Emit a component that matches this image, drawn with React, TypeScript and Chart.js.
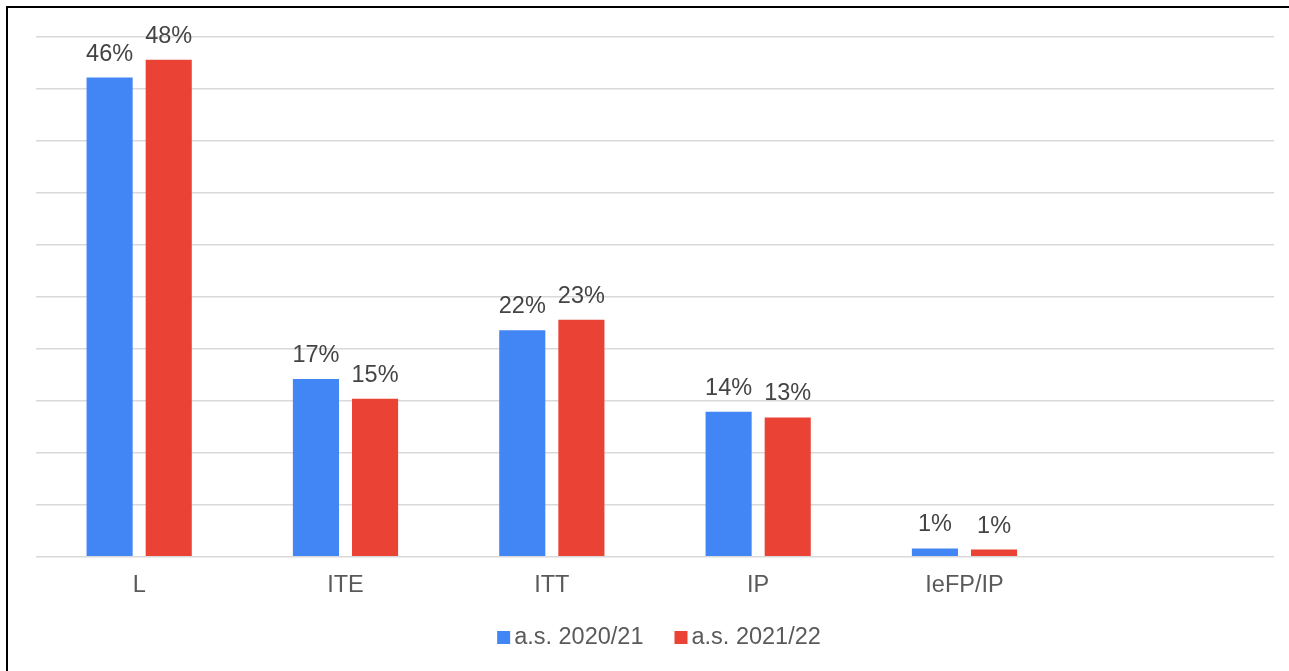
import React, { useEffect, useRef } from "react";
import { Chart, registerables } from "chart.js";

Chart.register(...registerables);

const categories = ["L", "ITE", "ITT", "IP", "IeFP/IP", ""];
const series2020 = [46.1, 17.1, 21.8, 13.95, 0.8, null];
const series2021 = [47.8, 15.2, 22.8, 13.4, 0.7, null];
const seriesNames = ["a.s. 2020/21", "a.s. 2021/22"];
const seriesColors = ["#4285F4", "#EA4335"];
const yMax = 50;
const yStep = 5;

const FONT = "Arial, 'Liberation Sans', sans-serif";

const valueLabels = {
  id: "valueLabels",
  afterDatasetsDraw(chart: any) {
    const ctx = chart.ctx;
    ctx.save();
    ctx.font = `23.5px ${FONT}`;
    ctx.fillStyle = "#444444";
    ctx.textAlign = "center";
    ctx.textBaseline = "alphabetic";
    chart.data.datasets.forEach((ds: any, di: number) => {
      const meta = chart.getDatasetMeta(di);
      meta.data.forEach((bar: any, i: number) => {
        const v = ds.data[i];
        if (v === null || v === undefined) return;
        ctx.fillText(`${Math.round(v)}%`, bar.x, bar.y - 17);
      });
    });
    ctx.restore();
  },
};

const customLegend = {
  id: "customLegend",
  afterDraw(chart: any) {
    const ctx = chart.ctx;
    ctx.save();
    ctx.font = `23.5px ${FONT}`;
    ctx.textBaseline = "middle";
    ctx.textAlign = "left";
    const box = 13;
    const gap = 4;
    const itemGap = 31;
    const widths = seriesNames.map((n) => box + gap + ctx.measureText(n).width);
    const total = widths.reduce((a, b) => a + b, 0) + itemGap * (widths.length - 1);
    let x = 651 - total / 2;
    const y = 629;
    seriesNames.forEach((n, i) => {
      ctx.fillStyle = seriesColors[i];
      ctx.fillRect(x, y - 6, box, box);
      ctx.fillStyle = "#5a5a5a";
      ctx.fillText(n, x + box + gap, y + 1);
      x += widths[i] + itemGap;
    });
    ctx.restore();
  },
};

export default function App() {
  const ref = useRef<HTMLCanvasElement | null>(null);

  useEffect(() => {
    if (!ref.current) return;
    const chart = new Chart(ref.current, {
      type: "bar",
      data: {
        labels: categories,
        datasets: [
          {
            label: seriesNames[0],
            data: series2020,
            backgroundColor: seriesColors[0],
            categoryPercentage: 0.573,
            barPercentage: 0.78,
          },
          {
            label: seriesNames[1],
            data: series2021,
            backgroundColor: seriesColors[1],
            categoryPercentage: 0.573,
            barPercentage: 0.78,
          },
        ] as any,
      },
      options: {
        animation: false,
        responsive: false,
        maintainAspectRatio: false,
        layout: { padding: { left: 28, right: 15, top: 29, bottom: 55 } },
        plugins: {
          legend: { display: false },
          tooltip: { enabled: false },
          title: { display: false },
        },
        scales: {
          x: {
            grid: { display: false, drawTicks: false },
            border: { display: false },
            ticks: {
              color: "#5a5a5a",
              font: { size: 23.5, family: FONT },
              padding: 15,
              maxRotation: 0,
              autoSkip: false,
            },
          },
          y: {
            min: 0,
            max: yMax,
            ticks: { display: false, stepSize: yStep },
            grid: { color: "#d9d9d9", lineWidth: 1.6, drawTicks: false },
            border: { display: false },
          },
        },
      },
      plugins: [valueLabels, customLegend],
    });
    return () => chart.destroy();
  }, []);

  return (
    <div
      style={{
        position: "absolute",
        left: 6,
        top: 6,
        width: 1283,
        height: 665,
        borderTop: "2px solid #000",
        borderLeft: "2px solid #000",
        background: "#fff",
        overflow: "hidden",
      }}
    >
      <canvas ref={ref} width={1281} height={662} style={{ display: "block" }} />
    </div>
  );
}
